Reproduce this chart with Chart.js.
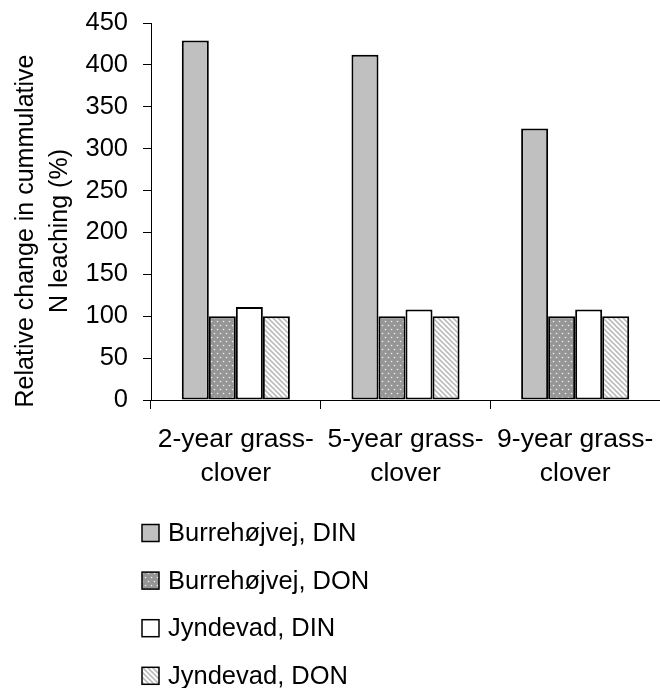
<!DOCTYPE html>
<html>
<head>
<meta charset="utf-8">
<script src="https://cdn.jsdelivr.net/npm/chart.js@4.4.1/dist/chart.umd.min.js"></script>
<style>
  body { margin: 0; background: #fff; }
  canvas { display: block; }
</style>
</head>
<body>
<canvas id="chart" width="660" height="688"></canvas>
<script>
var categories = [["2-year grass-", "clover"], ["5-year grass-", "clover"], ["9-year grass-", "clover"]];
var seriesNames = ["Burrehøjvej, DIN", "Burrehøjvej, DON", "Jyndevad, DIN", "Jyndevad, DON"];
var burreDIN = [429, 412, 324];
var burreDON = [100, 100, 100];
var jyndDIN = [111, 108, 108];
var jyndDON = [100, 100, 100];
var yTicks = [0, 50, 100, 150, 200, 250, 300, 350, 400, 450];
var yTitle = ["Relative change in cummulative", "N leaching (%)"];

var FONT = "'Liberation Sans', Arial, sans-serif";

// patterns
function dotPattern() {
    var c = document.createElement('canvas');
    c.width = 6; c.height = 8;
    var g = c.getContext('2d');
    g.fillStyle = '#969696';
    g.fillRect(0, 0, 6, 8);
    g.fillStyle = '#f0f0f0';
    g.beginPath(); g.arc(1.5, 1.5, 0.8, 0, Math.PI * 2); g.fill();
    g.beginPath(); g.arc(4.5, 5.5, 0.8, 0, Math.PI * 2); g.fill();
    return g.createPattern(c, 'repeat');
}
function stripePattern() {
    var c = document.createElement('canvas');
    c.width = 5; c.height = 5;
    var g = c.getContext('2d');
    g.fillStyle = '#ffffff';
    g.fillRect(0, 0, 5, 5);
    g.strokeStyle = '#bcbcbc';
    g.lineWidth = 1.6;
    g.beginPath();
    g.moveTo(-1, -1); g.lineTo(6, 6);
    g.moveTo(-1, 4); g.lineTo(1, 6);
    g.moveTo(4, -1); g.lineTo(6, 1);
    g.stroke();
    return g.createPattern(c, 'repeat');
}

var fills = ['#c0c0c0', dotPattern(), '#ffffff', stripePattern()];
var values = [burreDIN, burreDON, jyndDIN, jyndDON];

// y title and stacked legend below the plot
var extras = {
    id: 'extras',
    afterDraw: function (chart) {
        var ctx = chart.ctx;
        ctx.save();
        ctx.fillStyle = '#000';
        ctx.font = '25px ' + FONT;
        ctx.textAlign = 'center';
        ctx.textBaseline = 'alphabetic';
        ctx.translate(33, 231);
        ctx.rotate(-Math.PI / 2);
        yTitle.forEach(function (t, i) { ctx.fillText(t, 0, i * 34); });
        ctx.restore();

        ctx.save();
        ctx.font = '25.5px ' + FONT;
        ctx.textAlign = 'left';
        ctx.textBaseline = 'middle';
        chart.data.datasets.forEach(function (ds, i) {
            var cy = 533 + i * 47.6;
            ctx.fillStyle = ds.backgroundColor;
            ctx.fillRect(142, cy - 8.5, 17, 17);
            ctx.strokeStyle = '#000';
            ctx.lineWidth = 1.5;
            ctx.strokeRect(142, cy - 8.5, 17, 17);
            ctx.fillStyle = '#000';
            ctx.fillText(ds.label, 168, cy + 1);
        });
        ctx.restore();
    }
};

var ctx = document.getElementById('chart').getContext('2d');
var chart = new Chart(ctx, {
    type: 'bar',
    data: {
        labels: categories,
        datasets: seriesNames.map(function (name, i) {
            return {
                label: name,
                data: values[i],
                backgroundColor: fills[i],
                borderColor: '#000',
                borderWidth: 2,
                borderSkipped: false
            };
        })
    },
    options: {
        responsive: false,
        animation: false,
        devicePixelRatio: 1,
        layout: { padding: { top: 23, right: 0, bottom: 183, left: 0 } },
        plugins: {
            legend: { display: false },
            tooltip: { enabled: false }
        },
        datasets: {
            bar: { categoryPercentage: 0.637, barPercentage: 1 }
        },
        scales: {
            x: {
                afterFit: function (scale) { scale.paddingLeft = 0; scale.paddingRight = 0; },
                grid: { drawOnChartArea: false, color: '#000', tickLength: 9, offset: true },
                border: { color: '#000', width: 1 },
                ticks: {
                    color: '#000',
                    font: { family: FONT, size: 26.5, lineHeight: 1.283 },
                    padding: 14,
                    maxRotation: 0,
                    autoSkip: false
                }
            },
            y: {
                min: 0,
                max: 450,
                afterFit: function (scale) {
                    scale.width = 151;
                    scale.paddingTop = 0;
                    scale.paddingBottom = 0;
                },
                afterBuildTicks: function (scale) {
                    scale.ticks = yTicks.map(function (v) { return { value: v }; });
                },
                grid: { drawOnChartArea: false, color: '#000', tickLength: 8 },
                border: { color: '#000', width: 1 },
                ticks: {
                    color: '#000',
                    font: { family: FONT, size: 25.5 },
                    padding: 15
                }
            }
        }
    },
    plugins: [extras]
});
</script>
</body>
</html>
